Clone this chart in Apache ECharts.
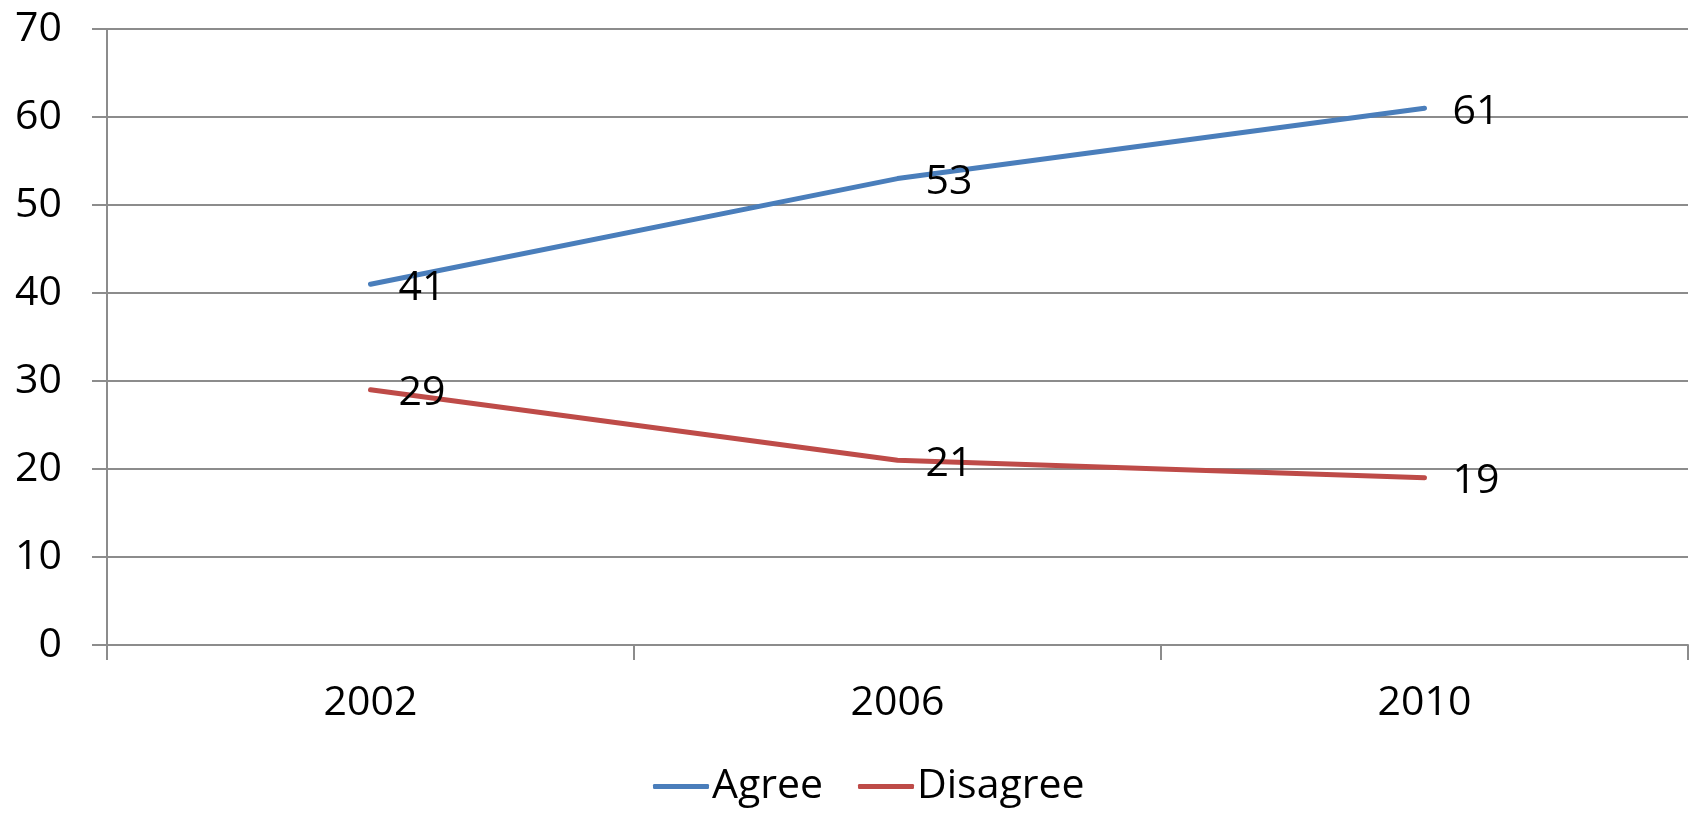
<!DOCTYPE html>
<html>
<head>
<meta charset="utf-8">
<style>
  html, body { margin: 0; padding: 0; background: #fff; }
  #chart { width: 1690px; height: 814px; }
</style>
<script src="https://cdn.jsdelivr.net/npm/echarts@6/dist/echarts.min.js"></script>
</head>
<body>
<div id="chart"></div>
<script>
// Survey years and response shares (%)
const years = ['2002', '2006', '2010'];
const agree = [41, 53, 61];
const disagree = [29, 21, 19];
const seriesNames = ['Agree', 'Disagree'];

const FONT = '"Open Sans", "Liberation Sans", sans-serif';
const axisGray = '#8c8c8c';

const chart = echarts.init(document.getElementById('chart'), null, { renderer: 'canvas' });

const labelStyle = {
  show: true,
  position: 'right',
  distance: 28,
  offset: [0, 4],
  color: '#000',
  fontSize: 41,
  fontFamily: FONT
};

function lineSeries(name, values, color) {
  return {
    name: name,
    type: 'line',
    data: values,
    symbol: 'circle',
    symbolSize: 0,
    showSymbol: true,
    color: color,
    itemStyle: { color: color },
    lineStyle: { width: 5, color: color, cap: 'round' },
    label: labelStyle
  };
}

chart.setOption({
  animation: false,
  backgroundColor: '#fff',
  grid: { left: 107, right: 2, top: 29, bottom: 169, containLabel: false },
  legend: {
    bottom: 2,
    left: 648,
    itemWidth: 56,
    itemHeight: 5,
    itemGap: 35,
    icon: 'roundRect',
    textStyle: { fontSize: 41, fontFamily: FONT, color: '#000', padding: [0, 0, 0, -2] },
    data: seriesNames
  },
  xAxis: {
    type: 'category',
    data: years,
    boundaryGap: true,
    axisLine: { lineStyle: { color: axisGray, width: 2 } },
    axisTick: { show: true, length: 15, lineStyle: { color: axisGray, width: 2 } },
    axisLabel: { fontSize: 41, fontFamily: FONT, color: '#000', margin: 38 },
    splitLine: { show: false }
  },
  yAxis: {
    type: 'value',
    min: 0,
    max: 70,
    interval: 10,
    axisLine: { show: true, lineStyle: { color: axisGray, width: 2 } },
    axisTick: { show: true, length: 15, lineStyle: { color: axisGray, width: 2 } },
    axisLabel: { fontSize: 41, fontFamily: FONT, color: '#000', margin: 45 },
    splitLine: { show: true, lineStyle: { color: axisGray, width: 2 } }
  },
  series: [
    lineSeries(seriesNames[0], agree, '#4A7EBB'),
    lineSeries(seriesNames[1], disagree, '#BE4B48')
  ]
});
</script>
</body>
</html>
